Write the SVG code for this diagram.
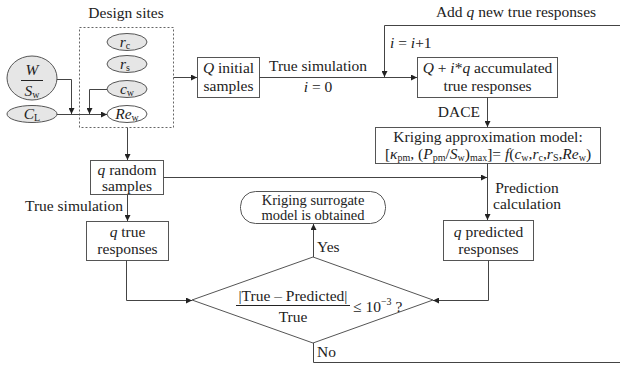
<svg xmlns="http://www.w3.org/2000/svg" width="620" height="367" viewBox="0 0 620 367">
<defs>
<marker id="ah" viewBox="0 0 10 10" refX="10" refY="5" markerWidth="8" markerHeight="6" markerUnits="userSpaceOnUse" orient="auto">
<path d="M0,0 L10,5 L0,10 z" fill="#222"/>
</marker>
<style>
text{font-family:"Liberation Serif","Times New Roman",serif;font-size:15.5px;fill:#222}
.m{text-anchor:middle}
.e{text-anchor:end}
.i{font-style:italic}
.s{font-size:10px}
.t{font-size:14.5px}
.box{fill:#fff;stroke:#555;stroke-width:1}
.ell{fill:#e6e6e6;stroke:#555;stroke-width:1}
.ellw{fill:#fff;stroke:#555;stroke-width:1}
.ln{fill:none;stroke:#444;stroke-width:1}
.arr{fill:none;stroke:#444;stroke-width:1;marker-end:url(#ah)}
</style>
</defs>
<rect width="620" height="367" fill="#fff"/>

<g id="design-sites">
<text x="126" y="18" class="m">Design sites</text>
<rect x="79.5" y="27.5" width="94" height="100" fill="none" stroke="#666" stroke-width="1" stroke-dasharray="2,2"/>
</g>
<g id="rc"><ellipse cx="127" cy="42" rx="20" ry="8.5" class="ell"/><text x="125" y="47" class="m"><tspan class="i">r</tspan><tspan class="s" dy="2">c</tspan></text></g>
<g id="rs"><ellipse cx="127" cy="64" rx="20" ry="8.5" class="ell"/><text x="125" y="69" class="m"><tspan class="i">r</tspan><tspan class="s" dy="2">s</tspan></text></g>
<g id="cw"><ellipse cx="127" cy="89" rx="20" ry="8.5" class="ell"/><text x="127" y="94" class="m"><tspan class="i">c</tspan><tspan class="s" dy="2">w</tspan></text></g>
<g id="rew"><ellipse cx="127" cy="114" rx="20" ry="8.5" class="ellw"/><text x="127" y="119" class="m"><tspan class="i">Re</tspan><tspan class="s" dy="2">w</tspan></text></g>
<g id="wsw"><ellipse cx="32" cy="78" rx="25" ry="22" class="ell"/><text x="32" y="75" class="m i">W</text><line x1="21" y1="80.5" x2="43" y2="80.5" stroke="#222" stroke-width="1"/><text x="32" y="96" class="m"><tspan class="i">S</tspan><tspan class="s" dy="2">w</tspan></text></g>
<g id="cl"><ellipse cx="32" cy="114" rx="25" ry="8.5" class="ell"/><text x="32" y="119" class="m"><tspan class="i">C</tspan><tspan class="s" dy="2">L</tspan></text></g>

<g id="q-initial"><rect x="197.5" y="57.5" width="62" height="40" class="box"/><text x="228.5" y="73" class="m"><tspan class="i">Q</tspan> initial</text><text x="228.5" y="91" class="m">samples</text></g>
<g id="accumulated"><rect x="417.5" y="57.5" width="140" height="40" class="box"/><text x="487.5" y="73" class="m"><tspan class="i">Q</tspan> + <tspan class="i">i</tspan>*<tspan class="i">q</tspan> accumulated</text><text x="487.5" y="91" class="m">true responses</text></g>
<g id="kriging"><rect x="375.5" y="127.5" width="225" height="36" class="box"/><text x="488" y="142" class="m">Kriging approximation model:</text><text x="488" y="159" class="m">[<tspan class="i">κ</tspan><tspan class="s" dy="2">pm</tspan><tspan dy="-2">, (</tspan><tspan class="i">P</tspan><tspan class="s" dy="2">pm</tspan><tspan dy="-2">/</tspan><tspan class="i">S</tspan><tspan class="s" dy="2">w</tspan><tspan dy="-2">)</tspan><tspan class="s" dy="2">max</tspan><tspan dy="-2">]= </tspan><tspan class="i">f</tspan>(<tspan class="i">c</tspan><tspan class="s" dy="2">w</tspan><tspan dy="-2">,</tspan><tspan class="i">r</tspan><tspan class="s" dy="2">c</tspan><tspan dy="-2">,</tspan><tspan class="i">r</tspan><tspan class="s" dy="2">S</tspan><tspan dy="-2">,</tspan><tspan class="i">Re</tspan><tspan class="s" dy="2">w</tspan><tspan dy="-2">)</tspan></text></g>
<g id="q-random"><rect x="90.5" y="160.5" width="73" height="34" class="box"/><text x="127" y="175" class="m"><tspan class="i">q</tspan> random</text><text x="127" y="191" class="m">samples</text></g>
<g id="q-true"><rect x="86.5" y="221.5" width="82" height="39" class="box"/><text x="127.5" y="237" class="m"><tspan class="i">q</tspan> true</text><text x="127.5" y="254" class="m">responses</text></g>
<g id="q-predicted"><rect x="443.5" y="220.5" width="90" height="40" class="box"/><text x="488.5" y="237" class="m"><tspan class="i">q</tspan> predicted</text><text x="488.5" y="254" class="m">responses</text></g>
<g id="surrogate"><rect x="240.5" y="191.5" width="145" height="32" rx="15" ry="15" class="box"/><text x="313" y="205" class="m t">Kriging surrogate</text><text x="313" y="220" class="m t">model is obtained</text></g>
<g id="decision"><polygon points="192,300 313,257 433,300 313,343" fill="#fff" stroke="#555" stroke-width="1"/><text x="293" y="301" class="m">|True – Predicted|</text><line x1="236" y1="305.5" x2="350" y2="305.5" stroke="#222" stroke-width="1"/><text x="293" y="322" class="m">True</text><text x="353" y="312">≤ 10<tspan font-size="10px" dy="-7">−3</tspan><tspan dy="7"> ?</tspan></text></g>

<g id="connectors">
<path d="M57,79.5 H71.5 V114" class="arr"/>
<path d="M107,89.5 H89.5 V114" class="arr"/>
<path d="M57,114.5 H107" class="arr"/>
<path d="M173.5,77.5 H197" class="arr"/>
<path d="M259.5,77.5 H417" class="arr"/>
<path d="M487.5,97.5 V127" class="arr"/>
<path d="M127.5,127.5 V160" class="arr"/>
<path d="M163.5,177.5 H487" class="arr"/>
<path d="M487.5,163.5 V220" class="arr"/>
<path d="M127.5,194.5 V221" class="arr"/>
<path d="M126.5,260.5 V300.5 H192" class="arr"/>
<path d="M488.5,260.5 V300.5 H433" class="arr"/>
<path d="M313.5,257 V224" class="arr"/>
<path d="M313.5,343 V362.5 H621 V25.5 H384.5 V77" class="arr"/>
<text x="318" y="71" class="m">True simulation</text>
<text x="318" y="92" class="m"><tspan class="i">i</tspan> = 0</text>
<text x="390" y="48"><tspan class="i">i</tspan> = <tspan class="i">i</tspan>+1</text>
<text x="516" y="17" class="m">Add <tspan class="i">q</tspan> new true responses</text>
<text x="480" y="117" class="e">DACE</text>
<text x="527" y="193" class="m">Prediction</text>
<text x="527" y="209" class="m">calculation</text>
<text x="123" y="211" class="e">True simulation</text>
<text x="317" y="252">Yes</text>
<text x="317" y="357">No</text>
</g>
</svg>
